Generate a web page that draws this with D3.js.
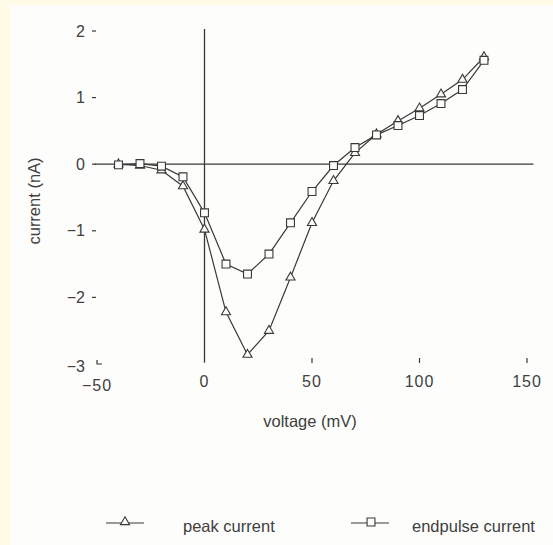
<!DOCTYPE html>
<html>
<head>
<meta charset="utf-8">
<script src="https://cdn.jsdelivr.net/npm/d3@7"></script>
<style>
  html, body { margin: 0; padding: 0; background: #fffbe6; }
  #chart { width: 553px; height: 545px; }
  text { font-family: "Liberation Sans", Arial, sans-serif; fill: #404040; }
</style>
</head>
<body>
<div id="chart"></div>
<script>
// voltage steps (mV)
const voltages = [-40, -30, -20, -10, 0, 10, 20, 30, 40, 50, 60, 70, 80, 90, 100, 110, 120, 130];
// peak current (nA), triangles
const peakCurrent = [0, -0.02, -0.09, -0.33, -0.98, -2.22, -2.86, -2.5, -1.7, -0.88, -0.25, 0.17, 0.45, 0.65, 0.84, 1.05, 1.27, 1.61];
// endpulse current (nA), squares
const endpulseCurrent = [-0.01, 0.01, -0.03, -0.19, -0.73, -1.5, -1.65, -1.35, -0.88, -0.41, -0.02, 0.25, 0.44, 0.58, 0.73, 0.91, 1.12, 1.56];

const xTicks = [-50, 0, 50, 100, 150];
const yTicks = [-3, -2, -1, 0, 1, 2];
const seriesNames = ["peak current", "endpulse current"];

function drawChart() {
    const W = 553, H = 545;
    const ink = "#383838";

    const svg = d3.select("#chart")
        .append("svg")
        .attr("width", W)
        .attr("height", H);

    // paper area (scan) inside the pale yellow frame
    svg.append("rect")
        .attr("x", 10).attr("y", 5)
        .attr("width", W - 10).attr("height", H - 5)
        .attr("fill", "#fdfdfb");

    const x = d3.scaleLinear().domain([-50, 150]).range([97, 527]);
    const y = d3.scaleLinear().domain([-3, 2]).range([364, 31]);

    // y tick labels + dashes
    const yg = svg.append("g");
    yg.selectAll("text")
        .data(yTicks)
        .enter().append("text")
        .attr("x", 85)
        .attr("y", d => y(d) + (d === -3 ? 8 : 5.5))
        .attr("text-anchor", "end")
        .style("font-size", "16px")
        .text(d => d < 0 ? "\u2212" + Math.abs(d) : d);
    yg.selectAll("line")
        .data(yTicks.filter(d => d > -3))
        .enter().append("line")
        .attr("x1", 92).attr("x2", 96)
        .attr("y1", d => y(d)).attr("y2", d => y(d))
        .attr("stroke", ink).attr("stroke-width", 1.2);

    // corner mark at (-50, -3)
    svg.append("path")
        .attr("d", `M${x(-50)},${y(-3) - 4}V${y(-3)}H${x(-50) + 5}`)
        .attr("fill", "none")
        .attr("stroke", ink).attr("stroke-width", 1.2);

    // x tick labels + small marks
    const xg = svg.append("g");
    xg.selectAll("text")
        .data(xTicks)
        .enter().append("text")
        .attr("x", d => x(d))
        .attr("y", d => d === -50 ? 391 : 387)
        .attr("text-anchor", "middle")
        .style("font-size", "16px")
        .style("letter-spacing", "1px")
        .text(d => d < 0 ? "\u2212" + Math.abs(d) : d);
    xg.selectAll("line")
        .data(xTicks.filter(d => d > 0))
        .enter().append("line")
        .attr("x1", d => x(d)).attr("x2", d => x(d))
        .attr("y1", 358).attr("y2", 363)
        .attr("stroke", ink).attr("stroke-width", 1.2);

    // zero lines
    svg.append("line")
        .attr("x1", x(-51)).attr("x2", x(153))
        .attr("y1", y(0)).attr("y2", y(0))
        .attr("stroke", ink).attr("stroke-width", 1.2);
    svg.append("line")
        .attr("x1", x(0)).attr("x2", x(0))
        .attr("y1", y(2.03)).attr("y2", y(-2.98))
        .attr("stroke", ink).attr("stroke-width", 1.3);

    // series
    const series = [
        { name: seriesNames[0], values: peakCurrent, symbol: d3.symbolTriangle, size: 36 },
        { name: seriesNames[1], values: endpulseCurrent, symbol: d3.symbolSquare, size: 62 }
    ];

    const line = d3.line()
        .x((d, i) => x(voltages[i]))
        .y(d => y(d));

    series.forEach(s => {
        svg.append("path")
            .datum(s.values)
            .attr("d", line)
            .attr("fill", "none")
            .attr("stroke", ink)
            .attr("stroke-width", 1.2);
    });

    series.forEach(s => {
        svg.append("g").selectAll("path")
            .data(s.values)
            .enter().append("path")
            .attr("d", d3.symbol().type(s.symbol).size(s.size))
            .attr("transform", (d, i) => `translate(${x(voltages[i])},${y(d)})`)
            .attr("fill", "#fdfdfb")
            .attr("stroke", ink)
            .attr("stroke-width", 1.1);
    });

    // axis titles
    svg.append("text")
        .attr("x", 310)
        .attr("y", 427)
        .attr("text-anchor", "middle")
        .style("font-size", "16.5px")
        .text("voltage (mV)");

    svg.append("text")
        .attr("transform", "translate(40,201) rotate(-90)")
        .attr("text-anchor", "middle")
        .style("font-size", "16.5px")
        .text("current (nA)");

    // legend
    const legendPos = [
        { lx: 106, mx: 125, tx: 183 },
        { lx: 351, mx: 371, tx: 412 }
    ];
    const legend = svg.selectAll(".legend")
        .data(series)
        .enter().append("g")
        .attr("class", "legend");

    legend.append("line")
        .attr("x1", (d, i) => legendPos[i].lx)
        .attr("x2", (d, i) => legendPos[i].lx + 38)
        .attr("y1", 523).attr("y2", 523)
        .attr("stroke", ink).attr("stroke-width", 1.1);

    legend.append("path")
        .attr("d", d => d3.symbol().type(d.symbol).size(d.size)())
        .attr("transform", (d, i) => `translate(${legendPos[i].mx},${522})`)
        .attr("fill", "#fdfdfb")
        .attr("stroke", ink)
        .attr("stroke-width", 1.1);

    legend.append("text")
        .attr("x", (d, i) => legendPos[i].tx)
        .attr("y", 532)
        .style("font-size", "16.5px")
        .text(d => d.name);
}

drawChart();
</script>
</body>
</html>
